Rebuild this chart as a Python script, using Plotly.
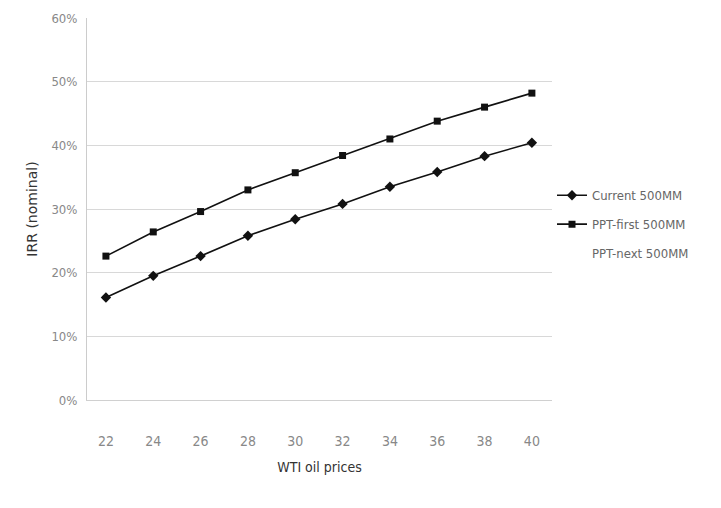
import plotly.graph_objects as go

# WTI oil price scenarios (USD/bbl)
oil_prices = [22, 24, 26, 28, 30, 32, 34, 36, 38, 40]

# Nominal IRR (%) by scenario
irr_current = [16.1, 19.5, 22.6, 25.8, 28.4, 30.8, 33.5, 35.8, 38.3, 40.4]
irr_ppt_first = [22.6, 26.4, 29.6, 33.0, 35.7, 38.4, 41.0, 43.8, 46.0, 48.2]

y_ticks = [0, 10, 20, 30, 40, 50, 60]
y_tick_text = [f"{v}%" for v in y_ticks]

font_family = "DejaVu Sans Condensed, Liberation Sans Narrow, sans-serif"

fig = go.Figure()
fig.add_trace(go.Scatter(
    x=oil_prices, y=irr_current, name="Current 500MM", legendgroup="a",
    mode="lines+markers",
    line=dict(color="#111111", width=1.6),
    marker=dict(symbol="diamond", size=8, color="#111111"),
))
fig.add_trace(go.Scatter(
    x=oil_prices, y=irr_ppt_first, name="PPT-first 500MM", legendgroup="b",
    mode="lines+markers",
    line=dict(color="#111111", width=1.6),
    marker=dict(symbol="square", size=7, color="#111111"),
))
# Third scenario is listed in the legend without a drawn line
fig.add_trace(go.Scatter(
    x=[None], y=[None], name="PPT-next 500MM", legendgroup="c",
    mode="lines",
    line=dict(color="rgba(255,255,255,0)", width=1.6),
))

fig.update_layout(
    width=721, height=508,
    margin=dict(l=87, r=169, t=18, b=108),
    paper_bgcolor="white", plot_bgcolor="white",
    font=dict(family=font_family, color="#777777", size=13),
    showlegend=True,
    legend=dict(
        x=1.0, y=0.46, xanchor="left", yanchor="middle",
        font=dict(size=13, color="#666666"),
        bgcolor="rgba(0,0,0,0)",
        tracegroupgap=9,
        itemwidth=30,
    ),
    xaxis=dict(
        range=[21.2, 40.85],
        tickmode="array", tickvals=oil_prices,
        ticktext=[str(v) for v in oil_prices],
        showgrid=False, zeroline=False,
        showline=True, linecolor="#d0d0d0", linewidth=1,
        ticks="", ticklabelstandoff=28,
        tickfont=dict(size=14, color="#888888"),
        title=dict(text="WTI oil prices", font=dict(size=14, color="#333333"),
                   standoff=14),
    ),
    yaxis=dict(
        range=[0, 60],
        tickmode="array", tickvals=y_ticks, ticktext=y_tick_text,
        showgrid=True, gridcolor="#d8d8d8", gridwidth=1,
        zeroline=False,
        showline=True, linecolor="#cccccc", linewidth=1,
        ticks="", ticklabelstandoff=6,
        tickfont=dict(size=13, color="#888888"),
        title=dict(text="IRR (nominal)",
                   font=dict(family="DejaVu Sans, sans-serif", size=14, color="#333333"),
                   standoff=10),
    ),
)

fig.write_html("out.html")
